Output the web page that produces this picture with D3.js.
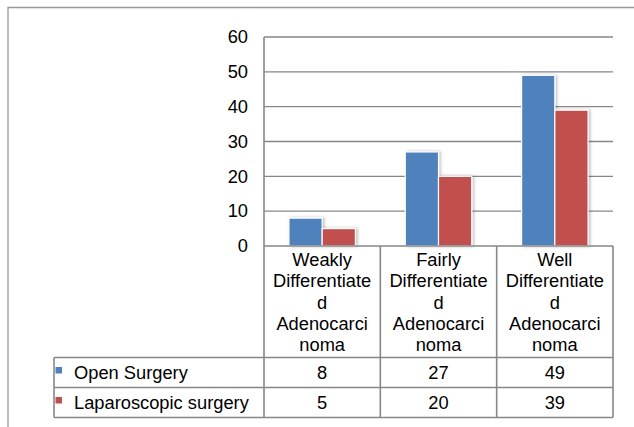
<!DOCTYPE html>
<html>
<head>
<meta charset="utf-8">
<script src="https://cdn.jsdelivr.net/npm/d3@7"></script>
<style>
  html, body { margin: 0; padding: 0; background: #fff; }
  svg { display: block; }
  text { font-family: "Liberation Sans", Arial, sans-serif; fill: #000; }
</style>
</head>
<body>
<script>
// Chart data
const categories = ["Weakly", "Fairly", "Well"];
const categoryLabels = [
  ["Weakly", "Differentiate", "d", "Adenocarci", "noma"],
  ["Fairly", "Differentiate", "d", "Adenocarci", "noma"],
  ["Well", "Differentiate", "d", "Adenocarci", "noma"]
];
const seriesNames = ["Open Surgery", "Laparoscopic surgery"];
const openSurgery = [8, 27, 49];
const laparoscopicSurgery = [5, 20, 39];
const seriesColors = ["#4F81BD", "#C0504D"];
const yTicks = [0, 10, 20, 30, 40, 50, 60];

const seriesValues = [openSurgery, laparoscopicSurgery];

const W = 634, H = 427;
const fontSize = 18.3;
const lineColor = "#878787";

const svg = d3.select("body").append("svg")
  .attr("width", W).attr("height", H);

// soft shadow behind the bars
const defs = svg.append("defs");
const f = defs.append("filter").attr("id", "barShadow")
  .attr("x", "-30%").attr("y", "-30%").attr("width", "160%").attr("height", "160%");
f.append("feDropShadow").attr("dx", 1.5).attr("dy", 0)
  .attr("stdDeviation", 1.6).attr("flood-color", "#000").attr("flood-opacity", 0.28);

// outer frame (top and left edges)
svg.append("path")
  .attr("d", `M8,${H} L8,7.5 L${W},7.5`)
  .attr("fill", "none").attr("stroke", "#999").attr("stroke-width", 1.3);

// scales
const y = d3.scaleLinear().domain([0, 60]).range([246, 37]);
const x = d3.scaleBand().domain(categories).range([264, 613]);
const barW = x.bandwidth() / 3.5;
const xs = d3.scaleBand().domain(seriesNames)
  .range([0, barW * 2]);
const groupOffset = (x.bandwidth() - barW * 2) / 2;

// gridlines
svg.append("g").selectAll("line").data(yTicks.filter(t => t > 0)).join("line")
  .attr("x1", 264).attr("x2", 613)
  .attr("y1", d => y(d)).attr("y2", d => y(d))
  .attr("stroke", lineColor).attr("stroke-width", 1.3);

// y-axis tick labels
svg.append("g").selectAll("text").data(yTicks).join("text")
  .attr("x", 248).attr("y", d => y(d) + 6.3)
  .attr("text-anchor", "end")
  .attr("font-size", fontSize)
  .text(d => d);

// bars
const barsG = svg.append("g");
seriesNames.forEach((s, si) => {
  barsG.append("g").selectAll("rect").data(seriesValues[si]).join("rect")
    .attr("x", (d, i) => x(categories[i]) + groupOffset + xs(s))
    .attr("y", d => y(d))
    .attr("width", xs.bandwidth())
    .attr("height", d => y(0) - y(d))
    .attr("fill", seriesColors[si])
    .attr("stroke", "#fff").attr("stroke-width", 1.2)
    .attr("filter", "url(#barShadow)");
});

// data table grid
const tableTop = 357.5, rowH = 30, tableLeft = 54, tableBottom = tableTop + rowH * 2;
const grid = svg.append("g").attr("stroke", lineColor).attr("stroke-width", 1.6).attr("fill", "none");
// axis baseline
grid.append("line").attr("x1", 264).attr("x2", 613).attr("y1", y(0)).attr("y2", y(0));
// y axis + column dividers
grid.append("line").attr("x1", 264).attr("x2", 264).attr("y1", y(60)).attr("y2", tableBottom);
categories.forEach(c => {
  grid.append("line").attr("x1", x(c) + x.bandwidth()).attr("x2", x(c) + x.bandwidth())
    .attr("y1", y(0)).attr("y2", tableBottom);
});
// row lines
[tableTop, tableTop + rowH, tableBottom].forEach(yy => {
  grid.append("line").attr("x1", tableLeft).attr("x2", 613).attr("y1", yy).attr("y2", yy);
});
grid.append("line").attr("x1", tableLeft).attr("x2", tableLeft).attr("y1", tableTop).attr("y2", tableBottom);

// category labels
const lineStep = 21.4;
categoryLabels.forEach((lines, i) => {
  const cx = x(categories[i]) + x.bandwidth() / 2;
  svg.append("g").selectAll("text").data(lines).join("text")
    .attr("x", cx).attr("y", (d, j) => 265.8 + j * lineStep)
    .attr("text-anchor", "middle").attr("font-size", fontSize)
    .text(d => d);
});

// legend rows with values
seriesNames.forEach((s, si) => {
  const rowMid = tableTop + rowH * si + rowH / 2;
  svg.append("rect")
    .attr("x", 55.5).attr("y", rowMid - 5.5).attr("width", 6.5).attr("height", 6.5)
    .attr("fill", seriesColors[si]);
  svg.append("text")
    .attr("x", 74).attr("y", rowMid + 6.5)
    .attr("font-size", fontSize)
    .text(s);
  svg.append("g").selectAll("text").data(seriesValues[si]).join("text")
    .attr("x", (d, i) => x(categories[i]) + x.bandwidth() / 2)
    .attr("y", rowMid + 6.5)
    .attr("text-anchor", "middle").attr("font-size", fontSize)
    .text(d => d);
});
</script>
</body>
</html>
